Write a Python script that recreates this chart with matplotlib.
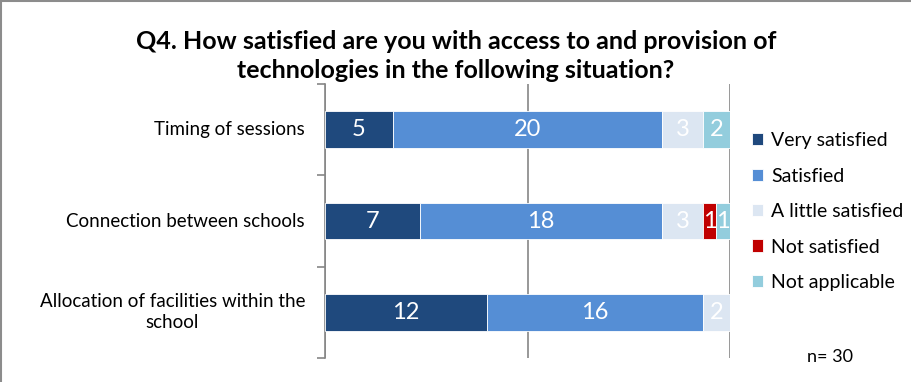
import numpy as np
import matplotlib
matplotlib.use('Agg')
import matplotlib.pyplot as plt
from matplotlib.patches import Rectangle

plt.rcParams['font.family'] = ['Lato', 'DejaVu Sans']

# dados
categorias = ['Timing of sessions', 'Connection between schools',
              'Allocation of facilities within the\nschool']
muito_satisfeito = [5, 7, 12]
satisfeito = [20, 18, 16]
pouco_satisfeito = [3, 3, 2]
nao_satisfeito = [0, 1, 0]
nao_aplicavel = [2, 1, 0]

series = ['Very satisfied', 'Satisfied', 'A little satisfied', 'Not satisfied', 'Not applicable']
valores = [muito_satisfeito, satisfeito, pouco_satisfeito, nao_satisfeito, nao_aplicavel]
cores = ['#1F497D', '#558ED5', '#DCE6F2', '#C00000', '#93CDDD']
n_total = 30

fig = plt.figure(figsize=(9.12, 3.82), dpi=100)
ax = fig.add_axes([0.3564, 0.0628, 0.4440, 0.7172])

y = np.arange(len(categorias))[::-1]
esquerda = np.zeros(len(categorias))
for nome, v, cor in zip(series, valores, cores):
    v = np.array(v, dtype=float)
    barras = ax.barh(y, v, left=esquerda, height=0.4, color=cor, label=nome,
                     edgecolor='white', linewidth=0.6, zorder=3)
    for b, val in zip(barras, v):
        if val > 0:
            ax.text(b.get_x() + b.get_width() / 2, b.get_y() + b.get_height() / 2,
                    '%d' % val, ha='center', va='center', color='white',
                    fontsize=17, zorder=4)
    esquerda += v

ax.set_xlim(0, n_total)
ax.set_ylim(-0.5, len(categorias) - 0.5)
ax.set_xticks([0, 15, 30])
ax.xaxis.grid(True, color='#868686', linewidth=1.2, zorder=0)
ax.tick_params(axis='x', length=0, labelbottom=False)
for s in ['top', 'right', 'bottom']:
    ax.spines[s].set_visible(False)
ax.spines['left'].set_color('#868686')
ax.spines['left'].set_linewidth(1.2)

ax.set_yticks(np.arange(-0.5, len(categorias), 1.0))
ax.set_yticklabels([])
ax.tick_params(axis='y', length=6, color='#868686', width=1.2)
for yi, nome in zip(y, categorias):
    ax.text(-20 / 13.5, yi, nome, ha='right', va='center', fontsize=13.5,
            multialignment='center', linespacing=1.3)

fig.text(0.5, 0.853, 'Q4. How satisfied are you with access to and provision of\n'
         'technologies in the following situation?', ha='center', va='center',
         fontsize=18, fontweight='bold', linespacing=1.28)

leg = ax.legend(loc='upper left', bbox_to_anchor=(0.805, 0.70), bbox_transform=fig.transFigure,
                frameon=False, fontsize=14, handlelength=0.6, handleheight=0.6,
                handletextpad=0.4, labelspacing=0.95)

fig.text(0.885, 0.065, 'n= 30', ha='left', va='center', fontsize=13)

fig.patches.append(Rectangle((0.001, -0.1), 1.2, 1.097, transform=fig.transFigure,
                             fill=False, edgecolor='#8c8c8c', linewidth=1.5))

fig.savefig('out.png', dpi=100)
